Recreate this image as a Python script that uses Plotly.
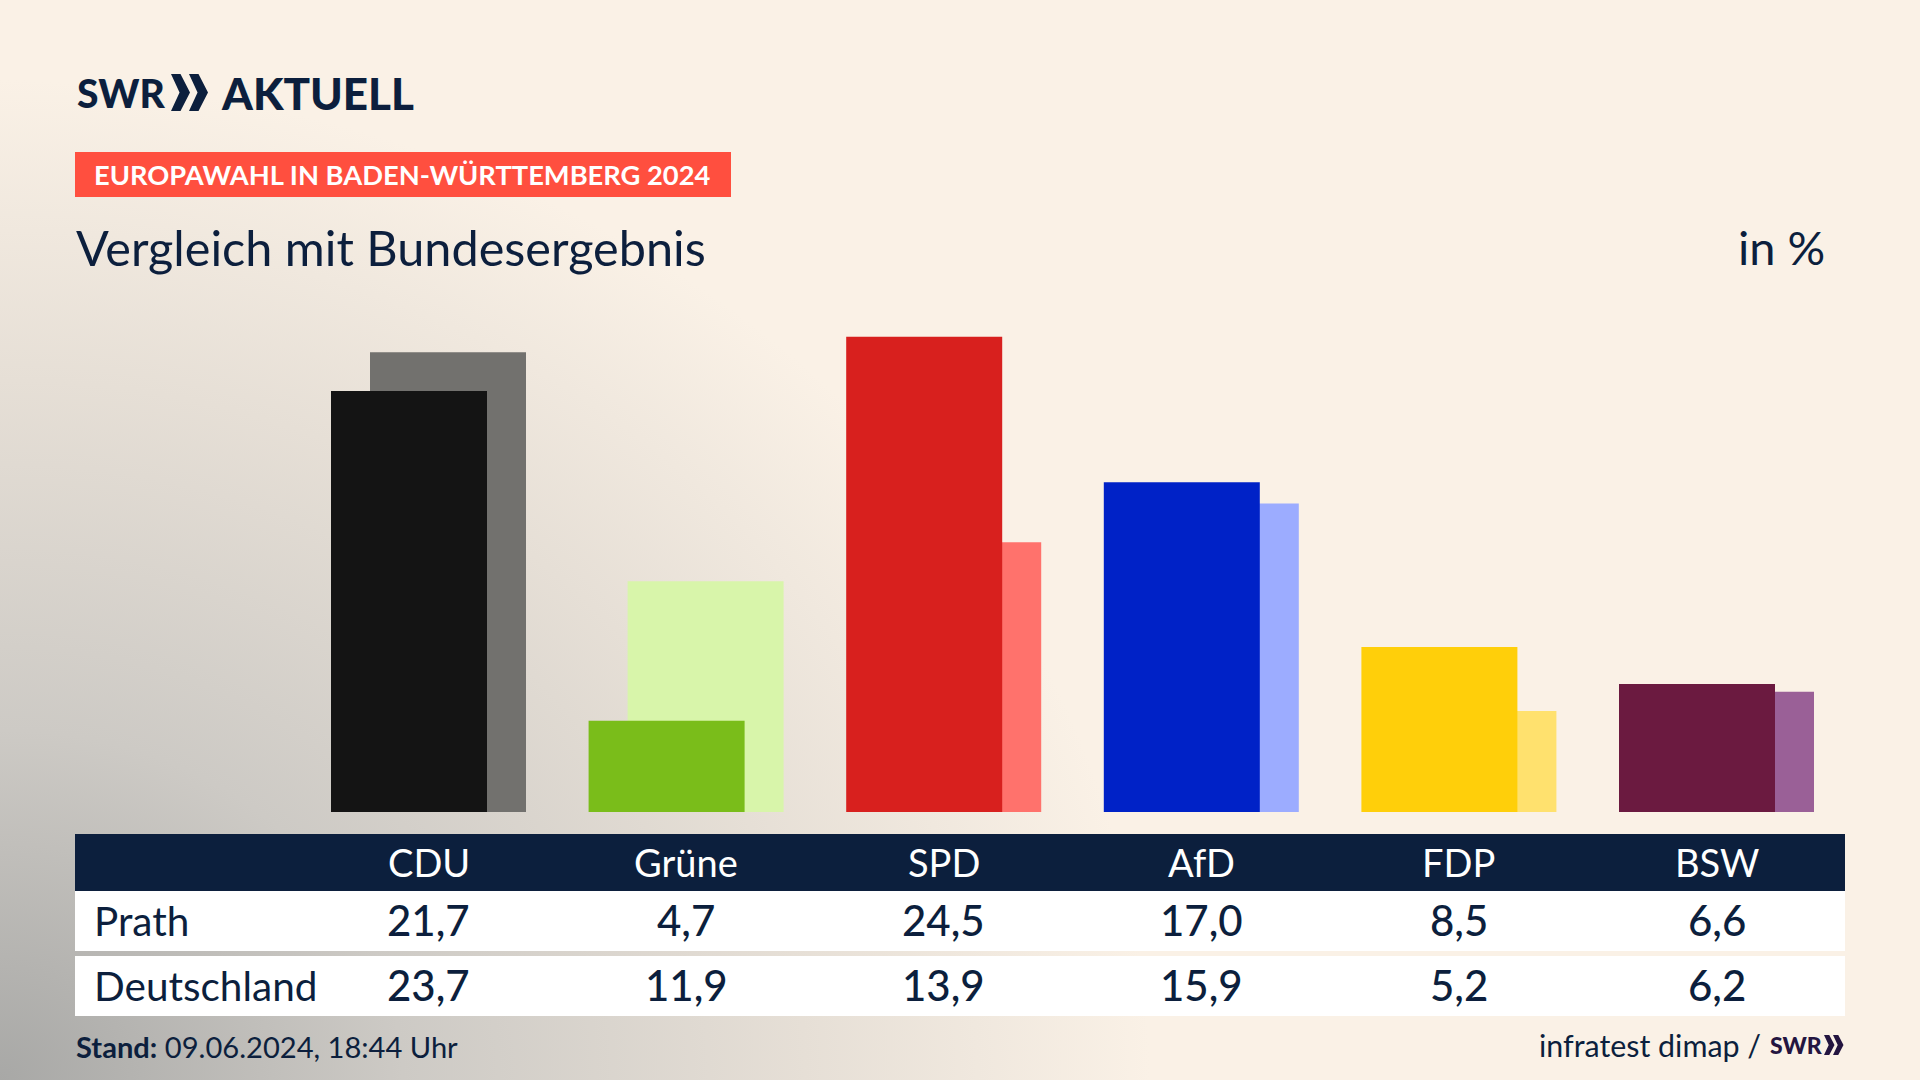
import plotly.graph_objects as go

parties = ["CDU", "Grüne", "SPD", "AfD", "FDP", "BSW"]
prath = [21.7, 4.7, 24.5, 17.0, 8.5, 6.6]
deutschland = [23.7, 11.9, 13.9, 15.9, 5.2, 6.2]
dark_colors = ["#141414", "#7abd1a", "#d8201e", "#0022c7", "#ffcf0a", "#6b1a40"]
light_colors = ["#72716e", "#d8f5aa", "#ff726c", "#9cacff", "#ffe16e", "#9a6097"]

NAVY = "#0c1f3d"
PURPLE = "#241540"
FONT = "Lato"
PITCH = 257.6


def px(x):
    return x / 1920


def py(y):
    return 1 - y / 1080


def label(text, x, y, size, color=NAVY, anchor="left", weight=400):
    return dict(text=text, x=px(x), y=py(y), xref="paper", yref="paper", xanchor=anchor, yanchor="middle",
                showarrow=False, font=dict(family=FONT, size=size, color=color, weight=weight))


def rect(x0, y0, x1, y1, color):
    return dict(type="rect", xref="paper", yref="paper", x0=px(x0), x1=px(x1), y0=py(y0), y1=py(y1),
                fillcolor=color, line_width=0)


def chevron(x, top, bottom, w, color):
    # one arrow of the SWR logo
    mid = (top + bottom) / 2
    pts = [(x, top), (x + w * 0.5, top), (x + w, mid), (x + w * 0.5, bottom), (x, bottom), (x + w * 0.45, mid)]
    path = "M " + " L ".join(f"{px(a)} {py(b)}" for a, b in pts) + " Z"
    return dict(type="path", xref="paper", yref="paper", path=path, fillcolor=color, line_width=0)


fig = go.Figure()
# Bundesergebnis behind, Prath in front
fig.add_trace(go.Bar(x=parties, y=deutschland, name="Deutschland", marker=dict(color=light_colors, line_width=0),
                     width=156 / PITCH, offset=-58.5 / PITCH, hoverinfo="skip"))
fig.add_trace(go.Bar(x=parties, y=prath, name="Prath", marker=dict(color=dark_colors, line_width=0),
                     width=156 / PITCH, offset=-97.5 / PITCH, hoverinfo="skip"))

shapes = [
    rect(75, 152, 731, 197, "#ff4f3f"),
    rect(75, 834, 1845, 891, NAVY),
    rect(75, 891, 1845, 951, "white"),
    rect(75, 956, 1845, 1016, "white"),
    chevron(171, 74, 111, 19, NAVY),
    chevron(189, 74, 111, 19, NAVY),
    chevron(1824, 1035, 1055, 10.5, PURPLE),
    chevron(1833, 1035, 1055, 10.5, PURPLE),
]

annotations = [
    label("SWR", 75, 93, 39, weight=900),
    label("AKTUELL", 219, 93, 44, weight=900),
    label("EUROPAWAHL IN BADEN-WÜRTTEMBERG 2024", 92, 175, 27.3, color="white", weight=700),
    label("Vergleich mit Bundesergebnis", 74, 247, 48.6),
    label("in %", 1827, 247, 47, anchor="right"),
    label("Prath", 92, 920, 40.5),
    label("Deutschland", 92, 985, 40.5),
    label("<b>Stand:</b> 09.06.2024, 18:44 Uhr", 74, 1046, 29.1),
    label("infratest dimap /", 1763, 1045, 30.4, anchor="right"),
    label("SWR", 1768, 1045, 23, color=PURPLE, weight=900),
]

# table cells sit on the same category axis as the bars
for i, party in enumerate(parties):
    for text, y, color, size, weight in [(party, 862, "white", 38, 400),
                                         (f"{prath[i]:.1f}".replace(".", ","), 920, NAVY, 42, 500),
                                         (f"{deutschland[i]:.1f}".replace(".", ","), 985, NAVY, 42, 500)]:
        annotations.append(dict(text=text, x=party, y=py(y), xref="x", yref="paper", xanchor="center",
                                yanchor="middle", showarrow=False,
                                font=dict(family=FONT, size=size, color=color, weight=weight)))

fig.update_layout(
    width=1920, height=1080, margin=dict(l=0, r=0, t=0, b=0),
    paper_bgcolor="rgba(0,0,0,0)", plot_bgcolor="rgba(0,0,0,0)",
    barmode="overlay", showlegend=False,
    shapes=shapes, annotations=annotations,
    xaxis=dict(domain=[px(299.7), px(1845.3)], range=[-0.5, 5.5], type="category", categoryorder="array",
               categoryarray=parties, visible=False),
    yaxis=dict(domain=[py(812), py(327)], range=[0, 25], visible=False),
)

# page background: grey glow out of the lower left corner
page_css = """
document.body.style.margin = '0';
document.body.style.overflow = 'hidden';
document.body.style.background = 'radial-gradient(ellipse 1150px 1000px at 0px 1080px, #a8a8a6 0%, #cdcac5 35%, #e6dfd6 70%, #faf1e6 100%) #faf1e6';
"""
fig.write_html("out.html", post_script=page_css, config={"displayModeBar": False})
